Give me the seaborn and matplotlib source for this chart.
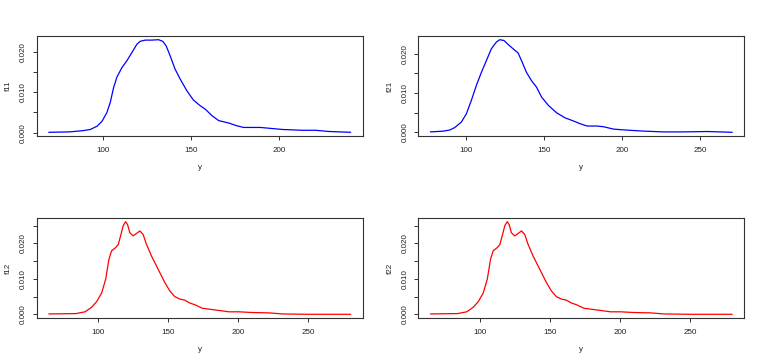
import matplotlib
matplotlib.use("Agg")
import matplotlib.pyplot as plt
import seaborn as sns

# ---- data ----
x11 = [69.5, 81.2, 88.7, 93.0, 96.8, 99.6, 102.4, 104.3, 106.2, 108.1,
       110.9, 113.7, 116.5, 119.4, 121.2, 124.1, 127.8, 131.6, 134.0, 135.9,
       138.2, 141.0, 143.8, 147.6, 151.3, 155.1, 158.1, 161.9, 165.6, 171.3,
       176.0, 179.8, 189.2, 194.2, 201.7, 213.0, 220.5, 228.0, 240.3]
f11 = [0.0001, 0.0002, 0.0005, 0.0008, 0.0016, 0.0028, 0.0050, 0.0075, 0.0112, 0.0138,
       0.0161, 0.0178, 0.0198, 0.0219, 0.0226, 0.0229, 0.0229, 0.0230, 0.0226, 0.0215,
       0.0190, 0.0157, 0.0133, 0.0104, 0.0081, 0.0067, 0.0058, 0.0042, 0.0030, 0.0024,
       0.0017, 0.0013, 0.0013, 0.0011, 0.0008, 0.0006, 0.0006, 0.0003, 0.0001]

x21 = [76.9, 85.4, 89.5, 92.5, 96.8, 100.0, 103.2, 106.4, 109.7, 112.9,
       116.1, 119.3, 121.5, 124.2, 126.8, 130.0, 133.3, 135.4, 138.6, 141.8,
       145.1, 148.3, 152.6, 157.9, 163.3, 168.7, 173.0, 177.6, 184.0, 188.3,
       194.7, 205.4, 214.0, 226.8, 239.7, 254.7, 270.8]
f21 = [0.0001, 0.0003, 0.0006, 0.0012, 0.0026, 0.0047, 0.0081, 0.0119, 0.0153, 0.0183,
       0.0213, 0.0230, 0.0236, 0.0234, 0.0224, 0.0213, 0.0202, 0.0183, 0.0153, 0.0132,
       0.0115, 0.0090, 0.0069, 0.0050, 0.0037, 0.0029, 0.0022, 0.0016, 0.0016, 0.0014,
       0.0008, 0.0005, 0.0003, 0.0001, 0.0001, 0.0002, 0.0000]

x12 = [64.9, 84.3, 90.8, 95.5, 99.1, 102.6, 105.5, 107.8, 109.7, 112.6,
       114.5, 116.4, 118.0, 119.7, 121.1, 122.7, 125.1, 127.5, 129.9, 132.2,
       134.6, 138.2, 142.9, 147.6, 151.2, 154.7, 158.3, 161.8, 165.4, 169.0,
       174.5, 184.0, 193.5, 200.6, 210.1, 222.0, 231.5, 250.5, 280.2]
f12 = [0.0001, 0.0002, 0.0007, 0.0020, 0.0036, 0.0060, 0.0099, 0.0155, 0.0179, 0.0188,
       0.0197, 0.0225, 0.0250, 0.0261, 0.0253, 0.0230, 0.0221, 0.0228, 0.0235, 0.0225,
       0.0197, 0.0164, 0.0127, 0.0090, 0.0066, 0.0050, 0.0043, 0.0040, 0.0032, 0.0027,
       0.0017, 0.0012, 0.0007, 0.0007, 0.0005, 0.0004, 0.0001, 0.0000, 0.0000]

x22 = list(x12)
f22 = list(f12)

panels = [
    (x11, f11, "f11", "blue", [100, 150, 200]),
    (x21, f21, "f21", "blue", [100, 150, 200, 250]),
    (x12, f12, "f12", "red", [100, 150, 200, 250]),
    (x22, f22, "f22", "red", [100, 150, 200, 250]),
]

sns.set_style("ticks")
plt.rcParams["font.family"] = ["Liberation Sans", "DejaVu Sans"]

W, H = 763, 364
fig = plt.figure(figsize=(W / 100, H / 100), dpi=100)

# axes boxes in pixel coords: (left, top, right, bottom)
boxes = [(36.7, 36, 362.7, 136), (418.3, 36, 744.3, 136),
         (36.7, 218, 362.7, 318), (418.3, 218, 744.3, 318)]

fs = 5.8
for (xs, ys, name, col, xt), (l, t, r, b) in zip(panels, boxes):
    ax = fig.add_axes([l / W, (H - b) / H, (r - l) / W, (b - t) / H])
    sns.lineplot(x=xs, y=ys, ax=ax, color=col, linewidth=0.9, sort=True)
    xr = max(xs) - min(xs)
    yr = max(ys) - min(ys)
    ax.set_xlim(min(xs) - 0.04 * xr, max(xs) + 0.04 * xr)
    ax.set_ylim(min(ys) - 0.04 * yr, max(ys) + 0.04 * yr)
    yt = [v for v in [0, 0.005, 0.010, 0.015, 0.020, 0.025] if v <= ax.get_ylim()[1]]
    ax.set_yticks(yt)
    ax.set_yticklabels([("%.3f" % v) if round(v * 1000) % 10 == 0 else "" for v in yt],
                       rotation=90, va="center", fontsize=fs, color="#222222")
    ax.set_xticks(xt)
    ax.set_xticklabels([str(v) for v in xt], fontsize=fs, color="#222222")
    ax.tick_params(axis="both", direction="out", length=3, width=0.7, color="#333333")
    ax.tick_params(axis="x", pad=5)
    ax.tick_params(axis="y", pad=4)
    for s in ax.spines.values():
        s.set_visible(True)
        s.set_linewidth(0.8)
        s.set_color("#333333")
    ax.set_xlabel("y", fontsize=fs, color="#222222")
    ax.set_ylabel(name, fontsize=fs, color="#222222")
    ax.xaxis.set_label_coords(0.5, -0.28)
    ax.yaxis.set_label_coords(-0.075, 0.5)

fig.savefig("out.png", dpi=100, facecolor="white")
